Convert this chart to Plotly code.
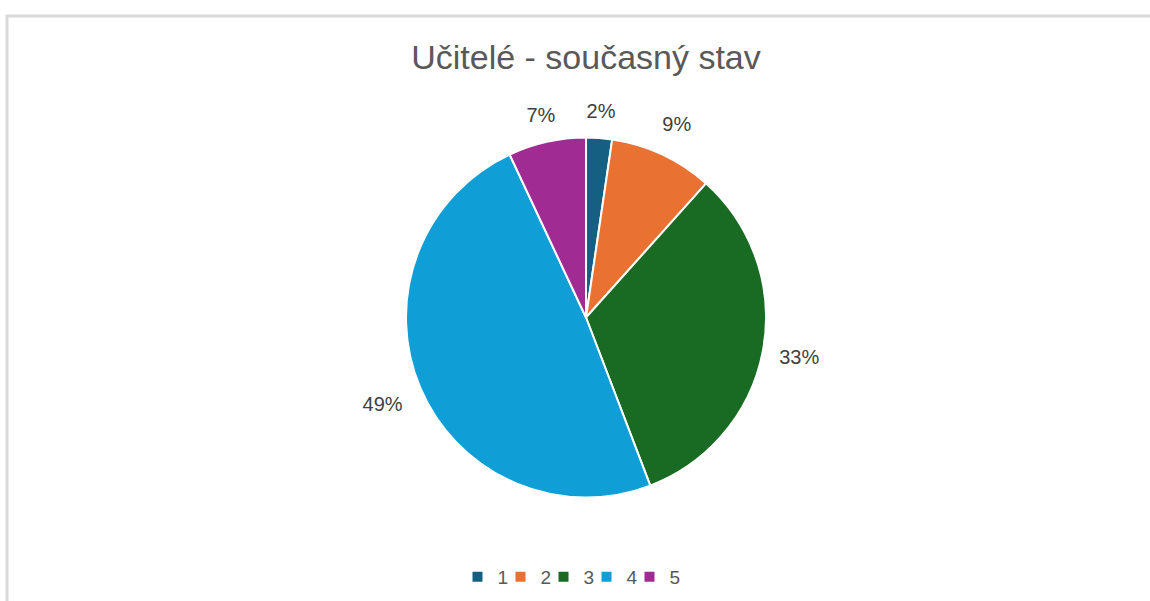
import plotly.graph_objects as go

categories = ["1", "2", "3", "4", "5"]
counts = [1, 4, 14, 21, 3]
colors = ["#156082", "#E97132", "#196B24", "#0F9ED5", "#A02B93"]
title_text = "Učitelé - současný stav"

W, H = 1150, 601
cx, cy, r = 586, 317.5, 180

# invisible ring that carries the data labels (styling only)
R2, R2_in = 222, 164
label_pull = [0, 0.095, 0.108, 0.126, 0.063]
maxp = max(label_pull)

def dom(rad):
    return dict(x=[(cx - rad) / W, (cx + rad) / W], y=[1 - (cy + rad) / H, 1 - (cy - rad) / H])

FONT = "Liberation Sans, Arial, sans-serif"

fig = go.Figure()
fig.add_trace(go.Pie(
    labels=categories,
    values=counts,
    sort=False,
    direction="clockwise",
    rotation=0,
    marker=dict(colors=colors, line=dict(color="white", width=2)),
    textinfo="none",
    hoverinfo="label+percent",
    domain=dom(r),
    automargin=False,
))
fig.add_trace(go.Pie(
    labels=categories,
    values=counts,
    sort=False,
    direction="clockwise",
    rotation=0,
    hole=R2_in / R2,
    pull=label_pull,
    marker=dict(colors=["rgba(0,0,0,0)"] * len(categories), line=dict(width=0)),
    texttemplate="%{percent:.0%}",
    textposition="inside",
    insidetextorientation="horizontal",
    textfont=dict(size=20, color="#404040", family=FONT),
    hoverinfo="skip",
    showlegend=False,
    domain=dom(R2 * (1 + maxp)),
    automargin=False,
))

fig.update_layout(
    width=W, height=H,
    margin=dict(l=0, r=0, t=0, b=0),
    paper_bgcolor="white",
    plot_bgcolor="white",
    font=dict(family=FONT, color="#595959"),
    uniformtext=dict(minsize=20, mode="show"),
    title=dict(text=title_text, x=cx / W, xanchor="center", y=1 - 57 / H, yanchor="middle",
               yref="container", font=dict(size=34, color="#595959")),
    legend=dict(orientation="h", x=578 / W, xanchor="center", y=1 - 577 / H, yanchor="middle",
                font=dict(size=19, color="#595959"), itemwidth=30, entrywidth=11,
                indentation=-13, traceorder="normal"),
    shapes=[
        dict(type="line", xref="paper", yref="paper", x0=6 / W, x1=1, y0=1 - 16 / H, y1=1 - 16 / H,
             line=dict(color="#d9d9d9", width=3)),
        dict(type="line", xref="paper", yref="paper", x0=7 / W, x1=7 / W, y0=0, y1=1 - 15 / H,
             line=dict(color="#d9d9d9", width=3)),
    ],
)

fig.write_html("out.html", config={"displayModeBar": False},
               post_script="document.body.style.margin='0';document.body.style.overflow='hidden';")
